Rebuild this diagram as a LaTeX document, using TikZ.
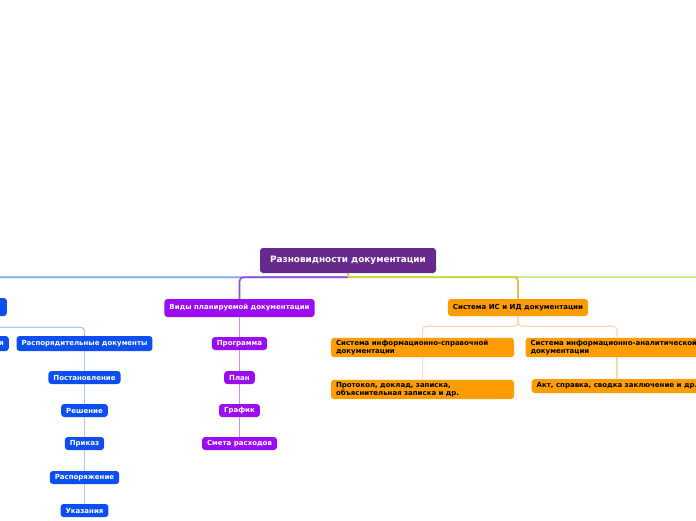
\documentclass[tikz,border=0pt]{standalone}
\usepackage{fontspec}
\setmainfont{DejaVu Sans}
\usepackage{xcolor}
\usetikzlibrary{positioning,calc}
\definecolor{rootc}{HTML}{66298C}
\definecolor{bluec}{HTML}{0B4FF2}
\definecolor{bluel}{HTML}{7EA6F5}
\definecolor{bluell}{HTML}{A9C6FA}
\definecolor{violc}{HTML}{9A0DF2}
\definecolor{violl}{HTML}{8E4BE6}
\definecolor{violll}{HTML}{C88CF2}
\definecolor{orc}{HTML}{FF9D00}
\definecolor{orl}{HTML}{F8B54E}
\definecolor{orll}{HTML}{FCDAA8}
\definecolor{grc}{HTML}{BDDC3A}
\definecolor{grl}{HTML}{C8F290}

\begin{document}
\begin{tikzpicture}[x=1pt,y=-1pt,
  box/.style={rounded corners=3pt,inner xsep=5pt,inner ysep=0pt,minimum height=13pt,
    font=\bfseries\fontsize{7}{8.6}\selectfont,text=white},
  rootbox/.style={box,fill=rootc,minimum width=176pt,minimum height=25pt,
    font=\bfseries\fontsize{8.9}{10}\selectfont},
  bluebox/.style={box,fill=bluec},
  violbox/.style={box,fill=violc},
  orbox/.style={box,fill=orc,text=black},
  twoline/.style={text width=173pt,align=left,inner ysep=2pt},
  mainline/.style={line width=1.6pt,rounded corners=4pt},
  subline/.style={line width=1.2pt,rounded corners=4pt}]
  \useasboundingbox (0,0) rectangle (696,520);
  \clip (0,0) rectangle (696,520);

  % root and first level
  \node[rootbox] (root) at (348,260.5) {Разновидности документации};
  \coordinate (hub) at ($(root.south)+(0,4)$);
  \node[bluebox,anchor=east,minimum width=150pt,minimum height=18pt] (org) at (7,307) {};
  \node[violbox,minimum height=18pt] (vid) at (239.5,308) {Виды планируемой документации};
  \node[orbox,minimum height=17pt] (sis) at (518,307.5) {Система ИС и ИД документации};
  \coordinate (grn) at (710,277);

  \draw[mainline,bluel] (hub) -| (org.north);
  \draw[mainline,violl] (hub) -| (vid.north);
  \draw[mainline,orl] (hub) -| (sis.north);
  \draw[mainline,grc] (hub) -- (518,277);
  \draw[mainline,grl] (518,277) -- (grn);
  \draw[line width=1.6pt,grc] (root.south) -- (hub);

  % blue branch
  \node[bluebox,anchor=east,text width=120pt,align=right,minimum height=15pt] (ins) at (9,343.5) {ия};
  \node[bluebox,minimum height=15pt] (rasp) at (84.5,343.5) {Распорядительные документы};
  \node[bluebox] (post) at (84.5,377.5) {Постановление};
  \node[bluebox] (resh) at (84.5,410.5) {Решение};
  \node[bluebox] (prik) at (84.5,443.5) {Приказ};
  \node[bluebox] (rspr) at (84.5,477.5) {Распоряжение};
  \node[bluebox] (ukaz) at (84.5,510.5) {Указания};
  \draw[subline,bluell] (org.south) -- ++(0,11) -| (rasp.north);
  \draw[subline,bluell] (org.south) -- ++(0,11) -| (ins.north);
  \draw[subline,bluell] (rasp.south) -- (post.north);
  \draw[subline,bluell] (post.south) -- (resh.north);
  \draw[subline,bluell] (resh.south) -- (prik.north);
  \draw[subline,bluell] (prik.south) -- (rspr.north);
  \draw[subline,bluell] (rspr.south) -- (ukaz.north);

  % violet branch
  \node[violbox] (prog) at (239.5,343.5) {Программа};
  \node[violbox] (plan) at (239.5,377.5) {План};
  \node[violbox] (graf) at (239.5,410.5) {График};
  \node[violbox] (smet) at (239.5,443.5) {Смета расходов};
  \draw[subline,violll] (vid.south) -- (prog.north);
  \draw[subline,violll] (prog.south) -- (plan.north);
  \draw[subline,violll] (plan.south) -- (graf.north);
  \draw[subline,violll] (graf.south) -- (smet.north);

  % orange branch
  \node[orbox,twoline] (spr) at (422.5,347.5) {Система информационно-справочной документации};
  \node[orbox,twoline] (anl) at (617,347.5) {Система информационно-аналитической документации};
  \node[orbox,twoline] (prot) at (422.5,389.5) {Протокол, доклад, записка, объяснительная записка и др.};
  \node[orbox,minimum width=166pt,minimum height=14pt] (akt) at (617,386) {Акт, справка, сводка заключение и др.};
  \draw[subline,orll] (sis.south) -- ++(0,10) -| (spr.north);
  \draw[subline,orll] (sis.south) -- ++(0,10) -| (anl.north);
  \draw[subline,orll] (spr.south) -- (prot.north);
  \draw[subline,orll] (anl.south) -- (akt.north);
\end{tikzpicture}
\end{document}
